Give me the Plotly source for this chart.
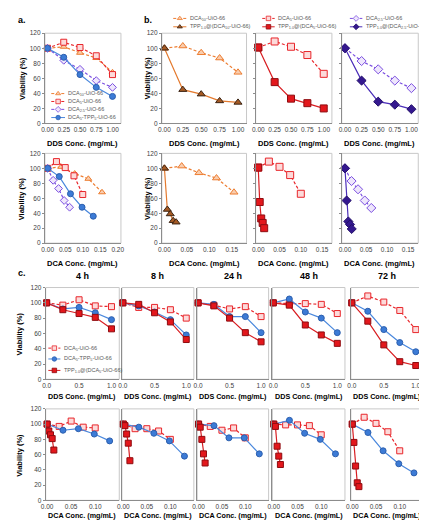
import plotly.graph_objects as go

W, H = 427, 520

# ---------------- data ----------------
dds_conc = [0, 0.25, 0.5, 0.75, 1.0]
# DCA concentration equivalent for each material
dca_x_dca10 = [0, 0.0385, 0.077, 0.116, 0.155]
dca_x_dca5 = [0, 0.025, 0.05, 0.075, 0.1]
dca_x_dca25 = [0, 0.0156, 0.031, 0.047, 0.0625]
dca_x_dca5tpp5 = [0, 0.033, 0.065, 0.098, 0.13]
dca_x_tpp_dca10 = [0, 0.0065, 0.013, 0.0195, 0.026]
dca_x_tpp_dca5 = [0, 0.0035, 0.007, 0.0105, 0.014]
dca_x_tpp_dca25 = [0, 0.004, 0.008, 0.012, 0.016]

# panel a
a_dca10 = [100, 102, 94, 87, 68]
a_dca5 = [100, 108, 101, 90, 65]
a_dca25 = [100, 84, 72, 57, 48]
a_dca5tpp5 = [100, 88, 65, 48, 36]
a2_dca10 = [100, 102, 93, 86, 68]
a2_dca5 = [100, 109, 101, 90, 65]
a2_dca25 = [100, 84, 73, 57, 48]
a2_dca5tpp5 = [100, 89, 66, 48, 36]

# panel b
b_dca10 = [100, 103, 94, 87, 68]
b_tpp_dca10 = [100, 45, 39, 30, 28]
b_dca5 = [101, 109, 102, 91, 66]
b_tpp_dca5 = [101, 55, 33, 27, 20]
b_dca25 = [100, 83, 72, 57, 47]
b_tpp_dca25 = [100, 57, 29, 25, 19]

# panel c (time points)
c_hours = ['4 h', '8 h', '24 h', '48 h', '72 h']
c_dca5 = [[100, 97, 104, 96, 95], [100, 94, 94, 91, 80], [100, 97, 92, 95, 82],
          [100, 99, 99, 98, 86], [100, 109, 101, 90, 65]]
c_dca5tpp5 = [[100, 92, 94, 87, 78], [100, 96, 88, 78, 58], [100, 98, 82, 82, 61],
              [100, 105, 88, 80, 61], [100, 89, 65, 48, 36]]
c_tpp_dca5 = [[100, 91, 86, 81, 66], [100, 98, 87, 75, 52], [100, 96, 80, 61, 49],
              [100, 97, 71, 58, 47], [100, 76, 45, 23, 18]]

yticks = [0, 20, 40, 60, 80, 100, 120]
xt_dds = [0, 0.25, 0.5, 0.75, 1.0]
xt_dds_lbl = ['0.00', '0.25', '0.50', '0.75', '1.00']
xt_a_dca = [0, 0.05, 0.1, 0.15, 0.2]
xt_a_dca_lbl = ['0.00', '0.05', '0.10', '0.15', '0.20']
xt_b_dca = [0, 0.05, 0.1, 0.15]
xt_b_dca_lbl = ['0.00', '0.05', '0.10', '0.15']
xt_c_dds = [0, 0.5, 1.0]
xt_c_dds_lbl = ['0.0', '0.5', '1.0']
xt_c_dca = [0, 0.05, 0.1]
xt_c_dca_lbl = ['0.00', '0.05', '0.10']

# ---------------- styles ----------------
ST = {
    'dca10': dict(color='#ED7D31', dash='3px,2px', symbol='triangle-up', fill='#F9CDAE', edge='#ED7D31'),
    'tpp_dca10': dict(color='#E47A2E', dash='solid', symbol='triangle-up', fill='#A65A24', edge='#3B2414'),
    'dca5': dict(color='#E8262B', dash='3px,2px', symbol='square', fill='#FCDADA', edge='#E8262B'),
    'tpp_dca5': dict(color='#D81E22', dash='solid', symbol='square', fill='#E3171C', edge='#8E0C10'),
    'dca25': dict(color='#7B4FE0', dash='3px,2px', symbol='diamond', fill='#EEE6FC', edge='#7B4FE0'),
    'tpp_dca25': dict(color='#4A2DB8', dash='solid', symbol='diamond', fill='#34188F', edge='#24106A'),
    'dca5tpp5': dict(color='#4A88DD', dash='solid', symbol='circle', fill='#3C7BD6', edge='#2C5FAE'),
}

FONT = 'Liberation Sans, Arial, sans-serif'
fig = go.Figure()
layout = dict(width=W, height=H, margin=dict(l=0, r=0, t=0, b=0), autosize=False,
              paper_bgcolor='white', plot_bgcolor='rgba(0,0,0,0)', showlegend=False,
              font=dict(family=FONT, color='#404040'))
shapes, annotations = [], []


def px(x):
    return x / W


def py(y):
    return 1 - y / H


panel_idx = [0]


def panel(left, right, top, bottom, xrange, xtv, xtl, ylabels=True, yticks_on=True):
    panel_idx[0] += 1
    i = panel_idx[0]
    s = '' if i == 1 else str(i)
    layout['xaxis' + s] = dict(domain=[px(left), px(right)], range=xrange, anchor='y' + s,
                               tickmode='array', tickvals=xtv, ticktext=xtl, showgrid=False,
                               zeroline=False, showline=True, linecolor='#8c8c8c', linewidth=1,
                               ticks='', tickfont=dict(size=6.5, color='#404040'))
    layout['yaxis' + s] = dict(domain=[py(bottom), py(top)], range=[0, 120], anchor='x' + s,
                               tickmode='array', tickvals=yticks, showticklabels=ylabels,
                               showgrid=False, zeroline=False, showline=True, linecolor='#8c8c8c',
                               linewidth=1, ticks='outside' if yticks_on else '', ticklen=2,
                               tickcolor='#8c8c8c', tickfont=dict(size=6.5, color='#404040'))
    shapes.append(dict(type='rect', xref='x%s domain' % s, yref='y%s domain' % s,
                       x0=0, x1=1, y0=0, y1=1, line=dict(color='#C8C8C8', width=1), layer='below'))
    return 'x' + s, 'y' + s


def series(ax, x, y, key, msize):
    st = ST[key]
    fig.add_trace(go.Scatter(x=x, y=y, xaxis=ax[0], yaxis=ax[1], mode='lines+markers',
                             cliponaxis=False,
                             line=dict(color=st['color'], width=1.2, dash=st['dash']),
                             marker=dict(symbol=st['symbol'], size=msize, color=st['fill'],
                                         line=dict(color=st['edge'], width=1))))


def text(x, y, t, size=7.5, bold=True, angle=0, xanchor='center', color='black'):
    annotations.append(dict(x=px(x), y=py(y), xref='paper', yref='paper', text='<b>%s</b>' % t if bold else t,
                            showarrow=False, xanchor=xanchor, yanchor='middle', textangle=angle,
                            font=dict(size=size, color=color, family=FONT)))


# ---------------- panel a ----------------
ax = panel(32.5, 110, 21.5, 113, [-0.04, 1.13], xt_dds, xt_dds_lbl)
series(ax, dds_conc, a_dca10, 'dca10', 6)
series(ax, dds_conc, a_dca5, 'dca5', 6)
series(ax, dds_conc, a_dca25, 'dca25', 6)
series(ax, dds_conc, a_dca5tpp5, 'dca5tpp5', 6)
ax = panel(32.5, 110, 143.3, 234.3, [-0.008, 0.209], xt_a_dca, xt_a_dca_lbl)
series(ax, dca_x_dca10, a2_dca10, 'dca10', 6)
series(ax, dca_x_dca5, a2_dca5, 'dca5', 6)
series(ax, dca_x_dca25, a2_dca25, 'dca25', 6)
series(ax, dca_x_dca5tpp5, a2_dca5tpp5, 'dca5tpp5', 6)

# ---------------- panel b ----------------
b_frames = [(151.7, 238, [-0.035, 1.116], [-0.0057, 0.183]),
            (247.3, 325, [-0.04, 1.125], [-0.006, 0.173]),
            (335, 413, [-0.049, 1.103], [-0.0077, 0.174])]
b_sets = [(b_dca10, b_tpp_dca10, 'dca10', 'tpp_dca10', dca_x_dca10, dca_x_tpp_dca10),
          (b_dca5, b_tpp_dca5, 'dca5', 'tpp_dca5', dca_x_dca5, dca_x_tpp_dca5),
          (b_dca25, b_tpp_dca25, 'dca25', 'tpp_dca25', dca_x_dca25, dca_x_tpp_dca25)]
for k, ((l, r, rt, rb), (v1, v2, k1, k2, xd1, xd2)) in enumerate(zip(b_frames, b_sets)):
    ax = panel(l, r, 21.5, 113, rt, xt_dds, xt_dds_lbl, ylabels=(k == 0))
    series(ax, dds_conc, v1, k1, 7)
    series(ax, dds_conc, v2, k2, 7)
    ax = panel(l, r, 143.3, 234.3, rb, xt_b_dca, xt_b_dca_lbl, ylabels=(k == 0))
    series(ax, xd1, v1, k1, 7)
    series(ax, xd2, v2, k2, 7)
    text((l + r) / 2, 133, 'DDS Conc. (mg/mL)')
    text((l + r) / 2, 255, 'DCA Conc. (mg/mL)')

# ---------------- panel c ----------------
c_frames = [(33.3, 108.3), (111, 184.3), (187.7, 260.5), (264.3, 338.3), (344.3, 418.3)]
for k, (l, r) in enumerate(c_frames):
    ax = panel(l, r, 279.3, 372.3, [-0.015, 1.12], xt_c_dds, xt_c_dds_lbl,
               ylabels=(k == 0), yticks_on=(k == 0))
    series(ax, dds_conc, c_dca5[k], 'dca5', 6)
    series(ax, dds_conc, c_dca5tpp5[k], 'dca5tpp5', 6)
    series(ax, dds_conc, c_tpp_dca5[k], 'tpp_dca5', 6)
    ax = panel(l, r, 402.3, 495, [-0.003, 0.15], xt_c_dca, xt_c_dca_lbl,
               ylabels=(k == 0), yticks_on=(k == 0))
    series(ax, dca_x_dca5, c_dca5[k], 'dca5', 6)
    series(ax, dca_x_dca5tpp5, c_dca5tpp5[k], 'dca5tpp5', 6)
    series(ax, dca_x_tpp_dca5, c_tpp_dca5[k], 'tpp_dca5', 6)
    text((l + r) / 2, 268, c_hours[k], size=9)
    text((l + r) / 2, 390, 'DDS Conc. (mg/mL)', size=7.2)
    text((l + r) / 2, 510.5, 'DCA Conc. (mg/mL)', size=7.2)

# ---------------- legends (overlay axis in pixel units) ----------------
layout['xaxis99'] = dict(domain=[0, 1], range=[0, W], visible=False, fixedrange=True)
layout['yaxis99'] = dict(domain=[0, 1], range=[H, 0], visible=False, fixedrange=True)
LEG = [
    # (x0, x1, y, key, label)
    (39, 53, 82.7, 'dca10', 'DCA<sub>10</sub>-UiO-66'),
    (39, 53, 90.7, 'dca5', 'DCA<sub>5</sub>-UiO-66'),
    (39, 53, 98.7, 'dca25', 'DCA<sub>2.5</sub>-UiO-66'),
    (39, 53, 107, 'dca5tpp5', 'DCA<sub>5</sub>-TPP<sub>5</sub>-UiO-66'),
    (163.3, 176.7, 6.5, 'dca10', 'DCA<sub>10</sub>-UiO-66'),
    (163.3, 176.7, 15, 'tpp_dca10', 'TPP<sub>1.0</sub>@(DCA<sub>10</sub>-UiO-66)'),
    (254, 266.7, 6.5, 'dca5', 'DCA<sub>5</sub>-UiO-66'),
    (254, 266.7, 15, 'tpp_dca5', 'TPP<sub>1.0</sub>@(DCA<sub>5</sub>-UiO-66)'),
    (343.3, 356, 6.5, 'dca25', 'DCA<sub>2.5</sub>-UiO-66'),
    (343.3, 356, 15, 'tpp_dca25', 'TPP<sub>1.0</sub>@(DCA<sub>2.5</sub>-UiO-66)'),
    (36, 48.3, 340.7, 'dca5', 'DCA<sub>5</sub>-UiO-66'),
    (36, 48.3, 351.7, 'dca5tpp5', 'DCA<sub>5</sub>-TPP<sub>5</sub>-UiO-66'),
    (36, 48.3, 363.3, 'tpp_dca5', 'TPP<sub>1.0</sub>@(DCA<sub>5</sub>-UiO-66)'),
]
for x0, x1, y, key, lbl in LEG:
    st = ST[key]
    fig.add_trace(go.Scatter(x=[x0, x1], y=[y, y], xaxis='x99', yaxis='y99', mode='lines',
                             line=dict(color=st['color'], width=1, dash=st['dash']), hoverinfo='skip'))
    fig.add_trace(go.Scatter(x=[(x0 + x1) / 2], y=[y], xaxis='x99', yaxis='y99', mode='markers',
                             marker=dict(symbol=st['symbol'], size=4.5, color=st['fill'],
                                         line=dict(color=st['edge'], width=0.8)), hoverinfo='skip'))
    text(x1 + 1.3, y, lbl, size=5.5, bold=False, xanchor='left', color='#595959')

# ---------------- labels ----------------
text(3, 8.5, 'a.', size=9, xanchor='left')
text(131, 8.5, 'b.', size=9, xanchor='left')
text(3, 265, 'c.', size=9, xanchor='left')
text(71, 133, 'DDS Conc. (mg/mL)')
text(71, 255, 'DCA Conc. (mg/mL)')
for (x, y) in [(9, 67), (9, 189), (137, 67), (137, 189), (7, 326), (7, 449)]:
    text(x, y, 'Viability (%)', angle=-90)

layout['shapes'] = shapes
layout['annotations'] = annotations
fig.update_layout(**layout)
fig.write_html('out.html')
